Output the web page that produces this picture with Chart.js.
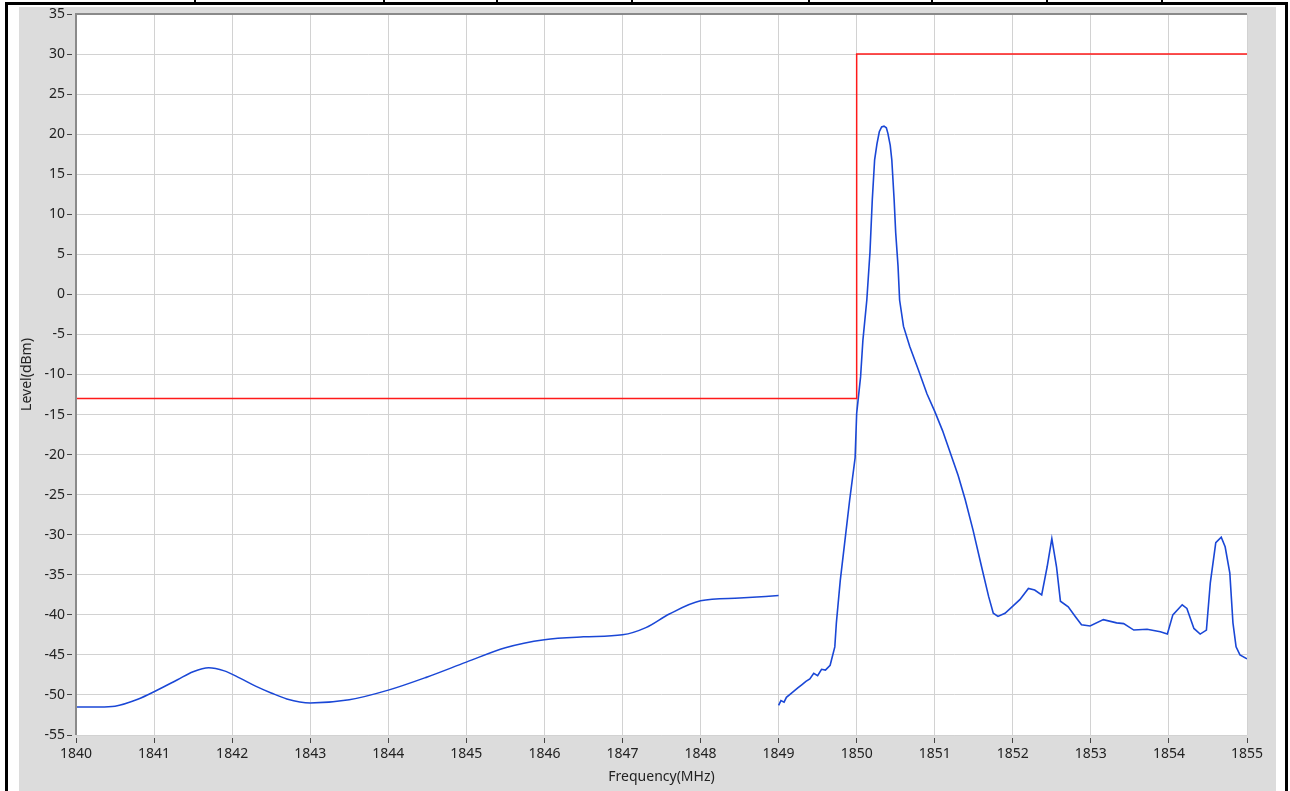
<!DOCTYPE html>
<html>
<head>
<meta charset="utf-8">
<script src="https://cdn.jsdelivr.net/npm/chart.js@4.4.1/dist/chart.umd.min.js"></script>
<style>
  html, body { margin: 0; padding: 0; background: #fff; }
  #wrap { position: relative; width: 1290px; height: 791px; overflow: hidden; }
  .blk { position: absolute; background: #000; }
  #panel { position: absolute; left: 19px; top: 7px; width: 1257px; height: 784px; background: #dcdcdc; }
  #chart { position: absolute; left: 0; top: 0; }
</style>
</head>
<body>
<div id="wrap">
  <div id="panel"></div>
  <div class="blk" style="left:5px;top:2px;width:1283px;height:3px"></div>
  <div class="blk" style="left:5px;top:2px;width:3px;height:789px"></div>
  <div class="blk" style="left:1285px;top:2px;width:3px;height:789px"></div>
  <div id="dividers"></div>
  <canvas id="chart" width="1290" height="791"></canvas>
</div>
<script>
// Spectrum trace, part below 1849 MHz
const lowFreq = [1840, 1840.3, 1840.5, 1840.8, 1841, 1841.3, 1841.5, 1841.7, 1841.9, 1842.1, 1842.3,
  1842.5, 1842.7, 1843, 1843.5, 1844, 1844.5, 1845, 1845.5, 1846, 1846.5, 1847, 1847.3, 1847.6,
  1848, 1848.5, 1849];
const lowLevel = [-51.5, -51.5, -51.4, -50.5, -49.6, -48.1, -47.1, -46.6, -47.0, -47.9, -48.9,
  -49.75, -50.5, -51.0, -50.6, -49.4, -47.75, -45.9, -44.1, -43.1, -42.75, -42.5, -41.6, -39.9,
  -38.25, -37.9, -37.6];

// Spectrum trace, part from 1849 MHz
const highFreq = [1849.0, 1849.03, 1849.07, 1849.1, 1849.15, 1849.2, 1849.25, 1849.3, 1849.35, 1849.4,
  1849.45, 1849.5, 1849.55, 1849.6, 1849.66, 1849.72, 1849.74, 1849.79, 1849.85, 1849.91, 1849.98,
  1850.0, 1850.05, 1850.08, 1850.13, 1850.17, 1850.2, 1850.23, 1850.26, 1850.29, 1850.32, 1850.35,
  1850.38, 1850.4, 1850.43, 1850.45, 1850.48, 1850.5, 1850.53, 1850.55, 1850.6, 1850.68, 1850.79,
  1850.9, 1851.0, 1851.1, 1851.2, 1851.3, 1851.39, 1851.49, 1851.6, 1851.69, 1851.75, 1851.81,
  1851.9, 1851.99, 1852.09, 1852.2, 1852.28, 1852.37, 1852.44, 1852.5, 1852.56, 1852.61, 1852.71,
  1852.8, 1852.88, 1852.99, 1853.16, 1853.33, 1853.42, 1853.55, 1853.72, 1853.89, 1853.98,
  1854.05, 1854.17, 1854.23, 1854.32, 1854.4, 1854.48, 1854.53, 1854.6, 1854.67, 1854.72, 1854.78,
  1854.82, 1854.86, 1854.91, 1855.0];
const highLevel = [-51.3, -50.7, -50.9, -50.3, -49.9, -49.5, -49.1, -48.7, -48.3, -48.0,
  -47.3, -47.6, -46.8, -46.9, -46.3, -44.0, -41.0, -35.7, -30.7, -25.7, -20.4,
  -14.85, -10.3, -5.7, -0.7, 5.2, 11.8, 16.8, 18.8, 20.3, 20.9, 21.0,
  20.8, 20.1, 18.6, 16.8, 11.8, 7.7, 3.5, -0.7, -4.0, -6.5, -9.4,
  -12.4, -14.6, -17.0, -19.8, -22.6, -25.6, -29.4, -34.0, -37.7, -39.8, -40.2,
  -39.8, -39.0, -38.1, -36.7, -36.9, -37.5, -34.0, -30.5, -34.0, -38.3, -39.0,
  -40.2, -41.25, -41.4, -40.6, -41.0, -41.1, -41.9, -41.8, -42.1, -42.4,
  -40.0, -38.75, -39.2, -41.7, -42.4, -41.9, -36.0, -31.0, -30.3, -31.5, -34.8,
  -41.0, -44.0, -45.0, -45.5];

// Limit line
const limitFreq = [1840, 1850, 1850, 1855];
const limitLevel = [-13, -13, 30, 30];

// Axes
const freqMin = 1840, freqMax = 1855, freqStep = 1;
const levelMin = -55, levelMax = 35, levelStep = 5;

const dividerX = [195, 384, 497, 632, 809, 932, 1047, 1162];
const divBox = document.getElementById('dividers');
dividerX.forEach(x => {
  const d = document.createElement('div');
  d.className = 'blk';
  d.style.cssText = 'left:' + (x - 1) + 'px;top:0;width:2px;height:4px';
  divBox.appendChild(d);
});

const toPoints = (xs, ys) => xs.map((x, i) => ({ x: x, y: ys[i] }));

const plotFrame = {
  id: 'plotFrame',
  beforeDraw(chart) {
    const { ctx, chartArea: a } = chart;
    ctx.save();
    ctx.fillStyle = '#ffffff';
    ctx.fillRect(a.left, a.top, a.right - a.left, a.bottom - a.top);
    ctx.restore();
  },
  afterDraw(chart) {
    const { ctx, chartArea: a } = chart;
    ctx.save();
    ctx.lineWidth = 2;
    ctx.strokeStyle = '#8a8a8a';
    ctx.beginPath();
    ctx.moveTo(a.left, a.bottom);
    ctx.lineTo(a.left, a.top);
    ctx.lineTo(a.right, a.top);
    ctx.stroke();
    ctx.restore();
  }
};

const font = { family: '"Noto Sans", "Open Sans", sans-serif', size: 14 };
const textColor = '#222';

new Chart(document.getElementById('chart'), {
  type: 'line',
  data: {
    datasets: [
      {
        label: 'Limit',
        data: toPoints(limitFreq, limitLevel),
        borderColor: '#ff1a1a',
        borderWidth: 1.5,
        pointRadius: 0,
        tension: 0
      },
      {
        label: 'Trace low',
        data: toPoints(lowFreq, lowLevel),
        borderColor: '#1a47d6',
        borderWidth: 1.5,
        pointRadius: 0,
        cubicInterpolationMode: 'monotone'
      },
      {
        label: 'Trace high',
        data: toPoints(highFreq, highLevel),
        borderColor: '#1a47d6',
        borderWidth: 1.6,
        pointRadius: 0,
        tension: 0
      }
    ]
  },
  options: {
    responsive: false,
    animation: false,
    events: [],
    layout: { padding: { left: 0, right: 43, top: 14, bottom: 0 } },
    plugins: {
      legend: { display: false },
      tooltip: { enabled: false }
    },
    scales: {
      x: {
        type: 'linear',
        min: freqMin,
        max: freqMax,
        afterFit(axis) { axis.height = 56; },
        border: { display: false },
        grid: {
          color: '#d2d2d2',
          lineWidth: 1,
          tickLength: 8,
          tickColor: '#444',
          tickBorderDash: [5, 3],
          tickBorderDashOffset: 5
        },
        ticks: {
          stepSize: freqStep,
          font: font,
          color: textColor,
          padding: 3,
          maxRotation: 0,
          callback: v => String(v)
        },
        title: {
          display: true,
          text: 'Frequency(MHz)',
          font: font,
          color: textColor,
          padding: { top: 0, bottom: 6 }
        }
      },
      y: {
        type: 'linear',
        min: levelMin,
        max: levelMax,
        afterFit(axis) { axis.width = 76; },
        border: { display: false },
        grid: {
          color: '#d2d2d2',
          lineWidth: 1,
          tickLength: 9,
          tickColor: '#444',
          tickBorderDash: [5, 4]
        },
        ticks: {
          stepSize: levelStep,
          font: font,
          color: textColor,
          padding: 2
        },
        title: {
          display: true,
          text: 'Level(dBm)',
          font: font,
          color: textColor,
          padding: { top: 19, bottom: 0 }
        }
      }
    }
  },
  plugins: [plotFrame]
});
</script>
</body>
</html>
